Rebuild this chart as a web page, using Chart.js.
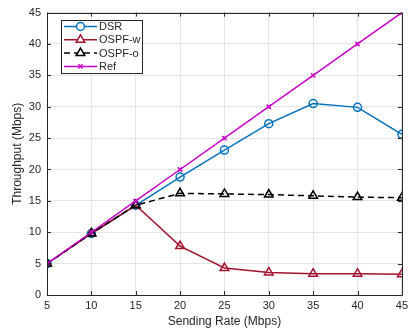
<!DOCTYPE html>
<html>
<head>
<meta charset="utf-8">
<script src="https://cdn.jsdelivr.net/npm/chart.js@4/dist/chart.umd.min.js"></script>
<style>
html,body{margin:0;padding:0;background:#fff;}
#wrap{width:412px;height:331px;position:relative;}
</style>
</head>
<body>
<div id="wrap"><canvas id="c" width="412" height="331"></canvas></div>
<script>
const sendingRate = [5, 10, 15, 20, 25, 30, 35, 40, 45];
const dsr   = [5, 9.8, 14.3, 18.8, 23.1, 27.3, 30.5, 29.9, 25.6];
const ospfW = [5, 9.8, 14.3, 7.8, 4.3, 3.6, 3.4, 3.4, 3.3];
const ospfO = [5, 9.8, 14.3, 16.2, 16.1, 16.0, 15.8, 15.6, 15.5];
const ref   = [5, 10, 15, 20, 25, 30, 35, 40, 45];
const seriesNames = ['DSR', 'OSPF-w', 'OSPF-o', 'Ref'];
const xTicks = [5, 10, 15, 20, 25, 30, 35, 40, 45];
const yTicks = [0, 5, 10, 15, 20, 25, 30, 35, 40, 45];

const FONT = '"Liberation Sans", Arial, Helvetica, sans-serif';
const AX = '#262626';

function pts(arr){ return sendingRate.map((x,i)=>({x:x,y:arr[i]})); }

const boxPlugin = {
  id:'boxTicks',
  afterDraw(chart){
    const {ctx, chartArea:a, scales:{x,y}} = chart;
    ctx.save();
    ctx.strokeStyle = AX;
    ctx.lineWidth = 1;
    ctx.beginPath();
    ctx.rect(Math.round(a.left)+0.5, Math.round(a.top)+0.5, Math.round(a.right-a.left), Math.round(a.bottom-a.top));
    ctx.stroke();
    const L = 4;
    ctx.beginPath();
    xTicks.forEach(v=>{
      const px = Math.round(x.getPixelForValue(v))+0.5;
      ctx.moveTo(px, a.bottom); ctx.lineTo(px, a.bottom-L);
      ctx.moveTo(px, a.top); ctx.lineTo(px, a.top+L);
    });
    yTicks.forEach(v=>{
      const py = Math.round(y.getPixelForValue(v))+0.5;
      ctx.moveTo(a.left, py); ctx.lineTo(a.left+L, py);
      ctx.moveTo(a.right, py); ctx.lineTo(a.right-L, py);
    });
    ctx.stroke();
    ctx.restore();
  }
};

const legendPlugin = {
  id:'mLegend',
  afterDraw(chart){
    const ctx = chart.ctx;
    const bx = 61, by = 20, bw = 81, bh = 53;
    ctx.save();
    ctx.fillStyle = '#fff';
    ctx.fillRect(bx, by, bw, bh);
    ctx.strokeStyle = AX;
    ctx.lineWidth = 1;
    ctx.strokeRect(bx+0.5, by+0.5, bw, bh);
    chart.data.datasets.forEach((ds, i)=>{
      const yy = by + 6.5 + i*13.3;
      ctx.strokeStyle = ds.borderColor;
      ctx.lineWidth = ds.borderWidth;
      ctx.setLineDash(ds.borderDash || []);
      ctx.beginPath();
      ctx.moveTo(bx+3, yy); ctx.lineTo(bx+36, yy);
      ctx.stroke();
      ctx.setLineDash([]);
      ctx.fillStyle = '#ffffff';
      ctx.strokeStyle = ds.borderColor;
      ctx.lineWidth = ds.pointBorderWidth;
      Chart.helpers.drawPoint(ctx, {
        pointStyle: ds.pointStyle,
        radius: ds.pointRadius,
        borderWidth: ds.pointBorderWidth,
        rotation: 0
      }, bx+19.5, yy);
      ctx.fillStyle = AX;
      ctx.font = '11px ' + FONT;
      ctx.textBaseline = 'middle';
      ctx.textAlign = 'left';
      ctx.fillText(ds.label, bx+38, yy+0.5);
    });
    ctx.restore();
  }
};

const mk = (label, data, color, style, radius, dash, order) => ({
  label, data: pts(data),
  borderColor: color, backgroundColor: 'rgba(0,0,0,0)',
  pointBorderColor: color, pointBackgroundColor: 'rgba(0,0,0,0)',
  borderWidth: 1.5, pointBorderWidth: 1.5,
  pointStyle: style, pointRadius: radius, pointHoverRadius: radius,
  borderDash: dash, tension: 0, order
});

new Chart(document.getElementById('c'), {
  type: 'line',
  data: {
    datasets: [
      mk(seriesNames[0], dsr, '#0072BD', 'circle', 4, [], 4),
      mk(seriesNames[1], ospfW, '#A2142F', 'triangle', 5, [], 3),
      mk(seriesNames[2], ospfO, '#000000', 'triangle', 5, [6,4], 2),
      mk(seriesNames[3], ref, '#C800C8', 'crossRot', 3, [], 1)
    ]
  },
  options: {
    responsive: false,
    animation: false,
    devicePixelRatio: 1,
    layout: { padding: { top: 11, right: 7, left: 0, bottom: 0 } },
    plugins: { legend: { display: false }, tooltip: { enabled: false } },
    scales: {
      x: {
        type: 'linear', min: 5, max: 45,
        afterBuildTicks: s => { s.ticks = xTicks.map(v=>({value:v})); },
        afterFit: s => { s.height = 36; },
        grid: { color: '#e5e5e5', drawTicks: false, lineWidth: 1 },
        border: { display: false },
        ticks: { color: AX, font: { family: FONT, size: 11 }, padding: 4, maxRotation: 0 },
        title: { display: true, text: 'Sending Rate (Mbps)', color: AX, font: { family: FONT, size: 12 }, padding: { top: 0, bottom: 2 } }
      },
      y: {
        type: 'linear', min: 0, max: 45,
        afterBuildTicks: s => { s.ticks = yTicks.map(v=>({value:v})); },
        afterFit: s => { s.width = 47; },
        grid: { color: '#e5e5e5', drawTicks: false, lineWidth: 1 },
        border: { display: false },
        ticks: { color: AX, font: { family: FONT, size: 11 }, padding: 6 },
        title: { display: true, text: 'Throughput (Mbps)', color: AX, font: { family: FONT, size: 12 }, padding: { top: 10, bottom: 0 } }
      }
    }
  },
  plugins: [boxPlugin, legendPlugin]
});
</script>
</body>
</html>
